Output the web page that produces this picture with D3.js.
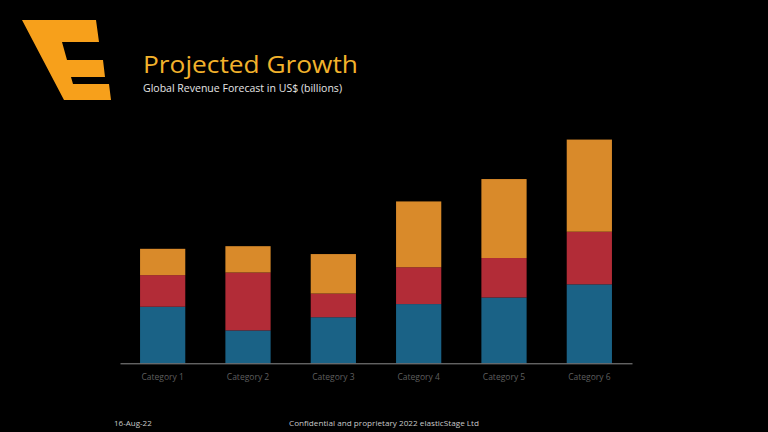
<!DOCTYPE html>
<html><head><meta charset="utf-8">
<script src="https://cdn.jsdelivr.net/npm/d3@7"></script>
<style>html,body{margin:0;padding:0;background:#000;}svg{display:block;}</style>
</head><body>
<svg id="chart" width="768" height="432"></svg>
<script>
const categories = ["Category 1","Category 2","Category 3","Category 4","Category 5","Category 6"];
const seriesNames = ["Series 1","Series 2","Series 3"];
const series1 = [4.3, 2.5, 3.5, 4.5, 5, 6];
const series2 = [2.4, 4.4, 1.8, 2.8, 3, 4];
const series3 = [2, 2, 3, 5, 6, 7];
const colors = ["#1a6286", "#b22c37", "#d98a2a"];
const yDomain = [0, 20];

const svg = d3.select("#chart");
svg.append("rect").attr("width",768).attr("height",432).attr("fill","#000");

// Logo
const logo = [[22,20],[96,20],[99,42],[62,42],[67,60],[103,60],[105,77],[71,77],[73,84],[109,84],[111,100],[64,100]];
svg.append("path").attr("d", d3.line()(logo)+"Z").attr("fill","#f7a01b");

// Titles
svg.append("text").attr("x",143).attr("y",73).attr("fill","#f2b22c")
  .attr("font-family","Open Sans, sans-serif").attr("font-size",23)
  .attr("textLength",215).attr("lengthAdjust","spacingAndGlyphs")
  .text("Projected Growth");
svg.append("text").attr("x",143).attr("y",91.5).attr("fill","#e6e6e6")
  .attr("font-family","Open Sans, sans-serif").attr("font-size",10)
  .attr("textLength",199).attr("lengthAdjust","spacingAndGlyphs")
  .text("Global Revenue Forecast in US$ (billions)");

// Chart
const x = d3.scaleBand().domain(categories).range([120, 632]).paddingInner(0.47).paddingOuter(0.235);
const y = d3.scaleLinear().domain(yDomain).range([363.3, 100.1]);

const rows = categories.map((c,i)=>({cat:c, "Series 1":series1[i], "Series 2":series2[i], "Series 3":series3[i]}));
const stacked = d3.stack().keys(seriesNames)(rows);

svg.append("g").selectAll("g").data(stacked).join("g")
  .attr("fill",(d,i)=>colors[i])
  .selectAll("rect").data(d=>d).join("rect")
  .attr("x",d=>x(d.data.cat)).attr("width",x.bandwidth())
  .attr("y",d=>y(d[1])).attr("height",d=>y(d[0])-y(d[1]));

const axis = svg.append("g").attr("transform",`translate(0,${y(0)})`)
  .call(d3.axisBottom(x).tickSize(0).tickSizeOuter(0).tickPadding(10.5));
axis.select(".domain").attr("stroke","#8c8c8c").attr("stroke-width",1);
axis.selectAll("text").attr("fill","#5f5f5f").attr("font-family","Open Sans, sans-serif").attr("font-size",8.5);

// Footer
svg.append("text").attr("x",114).attr("y",426).attr("fill","#c8c8c8")
  .attr("font-family","Open Sans, sans-serif").attr("font-size",8).text("16-Aug-22");
svg.append("text").attr("x",289).attr("y",426).attr("fill","#c8c8c8")
  .attr("font-family","Open Sans, sans-serif").attr("font-size",8)
  .attr("textLength",190).attr("lengthAdjust","spacingAndGlyphs")
  .text("Confidential and proprietary 2022 elasticStage Ltd");
</script>
</body></html>
